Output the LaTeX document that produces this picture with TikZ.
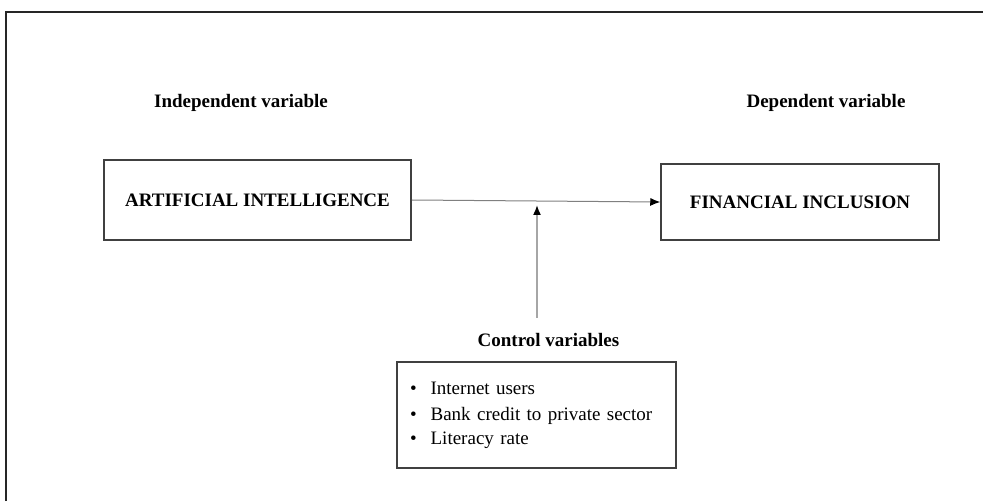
\documentclass[tikz,border=0pt]{standalone}
\usepackage{fontspec}
\setmainfont{Liberation Serif}
\usetikzlibrary{arrows.meta}
\begin{document}
\begin{tikzpicture}[x=1pt,y=1pt,
  mainbox/.style={draw=black!75, line width=1.5pt, fill=white, inner sep=0pt,
    font=\fontsize{19}{23}\selectfont\bfseries},
  headlabel/.style={inner sep=0pt, font=\fontsize{19}{23}\selectfont\bfseries},
  flow/.style={draw=black!50, line width=1pt, -{Latex[length=10pt,width=8pt,color=black]}},
  ctrl/.style={draw=black!35, line width=1.6pt, -{Latex[length=10pt,width=8pt,color=black]}}
]
\useasboundingbox (0,0) rectangle (983,501);
\fill[white] (0,0) rectangle (983,501);
% outer frame (only top and left edges visible)
\draw[black!85, line width=2pt] (6,0) -- (6,489) -- (984,489);

\node[headlabel] (indep) at (241,398) {Independent variable};
\node[headlabel] (dep) at (826,398) {Dependent variable};

\node[mainbox, minimum width=307pt, minimum height=80pt] (ai) at (257.5,301) {ARTIFICIAL INTELLIGENCE};
\node[mainbox, minimum width=278pt, minimum height=76pt] (fi) at (800,299) {FINANCIAL INCLUSION};

\draw[flow] (ai.east) -- (fi.west);

\node[headlabel] (ctrllabel) at (548.5,161) {Control variables};

\node[draw=black!75, line width=1.5pt, fill=white, minimum height=106pt,
  text width=253pt, inner xsep=13pt, inner ysep=0pt, align=left,
  font=\fontsize{19}{25}\selectfont] (cv) at (536.5,86)
  {\begin{tabular}{@{}l@{\hspace{14pt}}l@{}}
   \textbullet & Internet users\\
   \textbullet & Bank credit to private sector\\
   \textbullet & Literacy rate
   \end{tabular}};

\coordinate (cvtop) at (537,183);
\coordinate (tip) at (537,296);
\draw[ctrl] (cvtop) -- (tip);
\end{tikzpicture}
\end{document}
